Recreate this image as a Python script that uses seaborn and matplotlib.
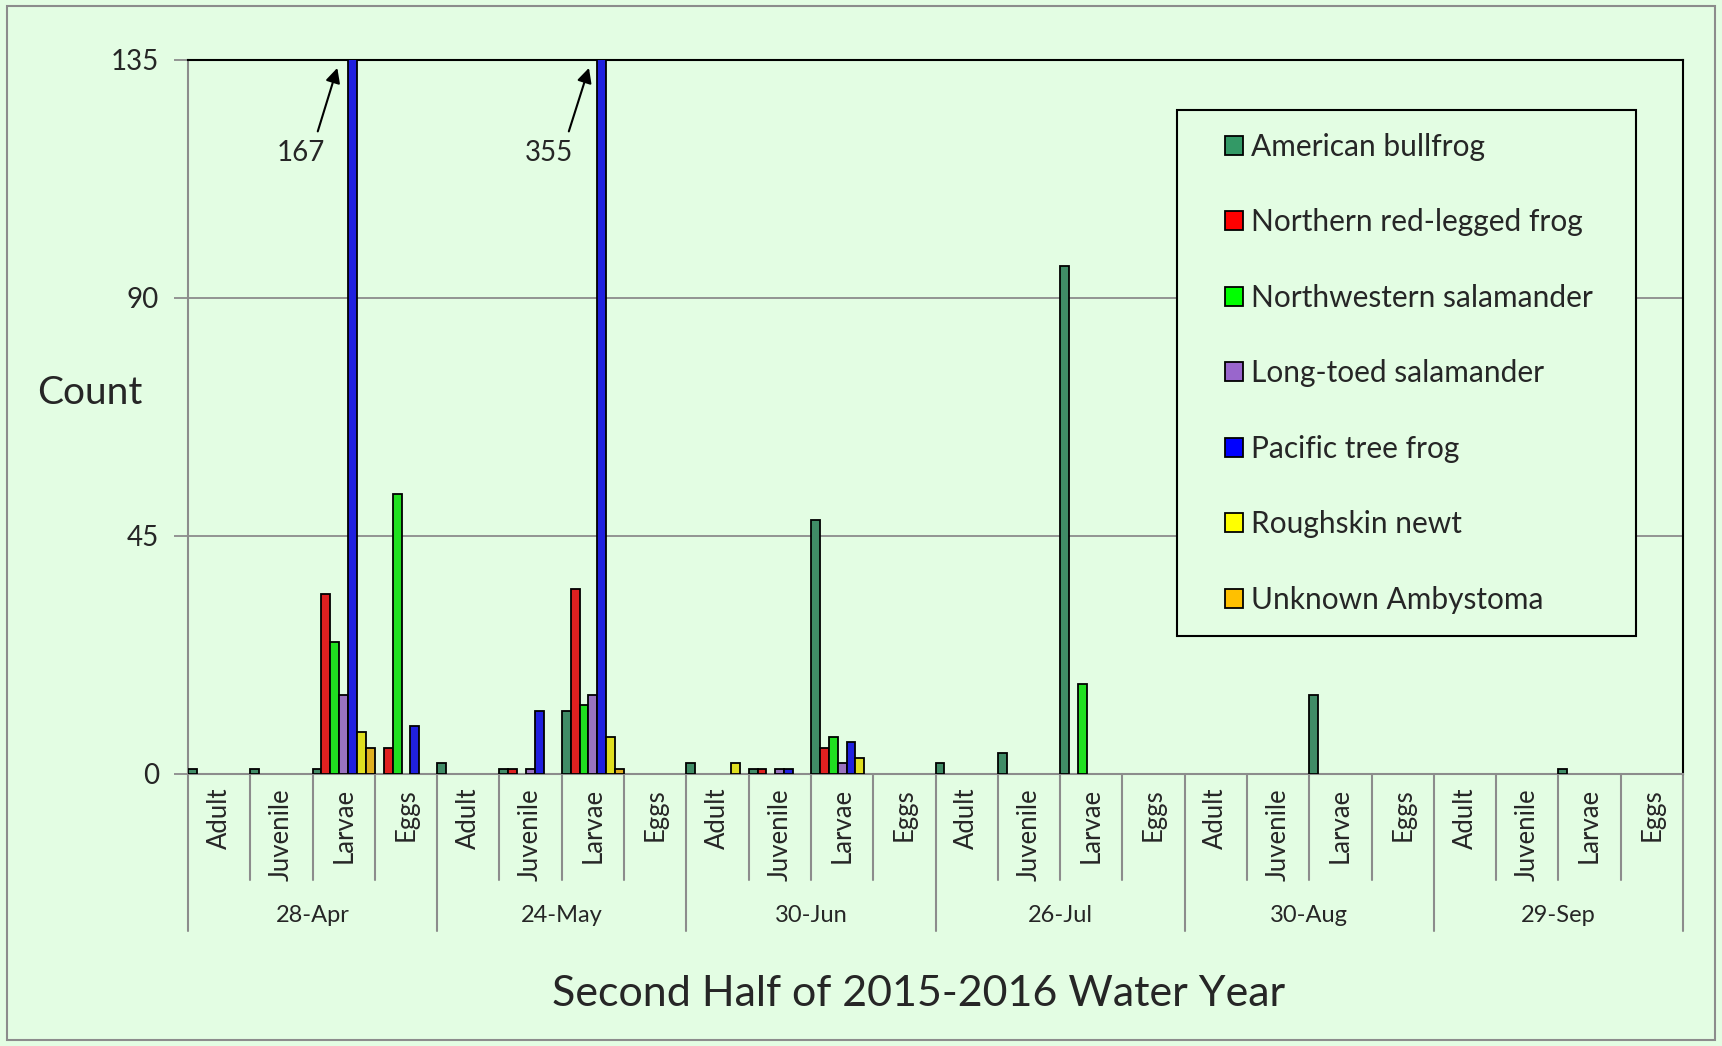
import numpy as np
import pandas as pd
import seaborn as sns
import matplotlib.pyplot as plt
import matplotlib.transforms as mtransforms
from matplotlib.patches import Patch, Rectangle

# data (count per date x life stage)
dates = ['28-Apr', '24-May', '30-Jun', '26-Jul', '30-Aug', '29-Sep']
stages = ['Adult', 'Juvenile', 'Larvae', 'Eggs']
species = ['American bullfrog', 'Northern red-legged frog', 'Northwestern salamander',
           'Long-toed salamander', 'Pacific tree frog', 'Roughskin newt', 'Unknown Ambystoma']
colors = ['#339966', '#ff0000', '#00ff00', '#9966cc', '#0000ff', '#ffff00', '#ffc000']

bullfrog    = [1, 1, 1, 0,   2, 1, 12, 0,   2, 1, 48, 0,   2, 4, 96, 0,   0, 0, 15, 0,   0, 0, 1, 0]
red_legged  = [0, 0, 34, 5,  0, 1, 35, 0,   0, 1, 5, 0,    0, 0, 0, 0,    0, 0, 0, 0,    0, 0, 0, 0]
nw_sal      = [0, 0, 25, 53, 0, 0, 13, 0,   0, 0, 7, 0,    0, 0, 17, 0,   0, 0, 0, 0,    0, 0, 0, 0]
long_toed   = [0, 0, 15, 0,  0, 1, 15, 0,   0, 1, 2, 0,    0, 0, 0, 0,    0, 0, 0, 0,    0, 0, 0, 0]
tree_frog   = [0, 0, 167, 9, 0, 12, 355, 0, 0, 1, 6, 0,    0, 0, 0, 0,    0, 0, 0, 0,    0, 0, 0, 0]
newt        = [0, 0, 8, 0,   0, 0, 7, 0,    2, 0, 3, 0,    0, 0, 0, 0,    0, 0, 0, 0,    0, 0, 0, 0]
ambystoma   = [0, 0, 5, 0,   0, 0, 1, 0,    0, 0, 0, 0,    0, 0, 0, 0,    0, 0, 0, 0,    0, 0, 0, 0]
series = [bullfrog, red_legged, nw_sal, long_toed, tree_frog, newt, ambystoma]

ymax = 135
yticks = [0, 45, 90, 135]

#%%
cats = [d + '|' + s for d in dates for s in stages]
rows = []
for name, vals in zip(species, series):
    for c, v in zip(cats, vals):
        if v > 0:
            rows.append({'cat': c, 'count': v, 'species': name})
df = pd.DataFrame(rows)

bg = '#e3fde3'
grid_col = '#8c8c8c'

sns.set_style('white')
plt.rcParams['font.family'] = ['Lato', 'DejaVu Sans']

fig = plt.figure(figsize=(17.22, 10.46), dpi=100, facecolor=bg)
ax = fig.add_axes([188/1722, 1 - 774/1046, (1683-188)/1722, (774-60)/1046])
ax.set_facecolor(bg)

sns.barplot(data=df, x='cat', y='count', hue='species', order=cats, hue_order=species,
            palette=colors, width=1, gap=0, edgecolor='black', linewidth=1.3,
            errorbar=None, legend=False, ax=ax, zorder=3)

ax.set_xlim(-0.5, len(cats) - 0.5)
ax.set_ylim(0, ymax)
ax.set_yticks(yticks)
ax.set_yticklabels([str(t) for t in yticks], fontsize=20)
ax.tick_params(axis='y', length=10, width=1.3, color=grid_col, pad=11, left=True)
ax.yaxis.grid(True, color=grid_col, lw=1.3, zorder=0)
ax.set_axisbelow(True)
ax.set_xticks([])
ax.set_xlabel('')
ax.set_ylabel('')
for side in ['left', 'bottom']:
    ax.spines[side].set_color(grid_col)
    ax.spines[side].set_linewidth(1.5)
for side in ['top', 'right']:
    ax.spines[side].set_color('black')
    ax.spines[side].set_linewidth(1.5)
    ax.spines[side].set_visible(True)

# two-level category axis
tr = mtransforms.blended_transform_factory(ax.transData, ax.transAxes)
for k in range(len(cats) + 1):
    low = -0.22 if k % 4 == 0 else -0.1485
    ax.plot([k - 0.5, k - 0.5], [0, low], color=grid_col, lw=1.5, transform=tr, clip_on=False)
for i, c in enumerate(cats):
    ax.text(i, -0.0196, c.split('|')[1], rotation=90, ha='center', va='top',
            fontsize=18.5, transform=tr)
for j, d in enumerate(dates):
    ax.text(j * 4 + 1.5, -0.198, d, ha='center', va='center', fontsize=17, transform=tr)

ax.text(-0.5 - 98/62.3, 1 - (393-60)/714, 'Count', ha='center', va='center', fontsize=28, transform=tr)
fig.text(919/1722, 1 - 994/1046, 'Second Half of 2015-2016 Water Year', ha='center', va='center', fontsize=31)

# values above the axis limit
for val, x_head, x_tail, x_txt in [(tree_frog[2], 1.91, 1.57, 1.31), (tree_frog[6], 5.95, 5.60, 5.30)]:
    ax.annotate('', xy=(x_head, 134), xytext=(x_tail, 121),
                arrowprops=dict(arrowstyle='-|>', color='black', lw=1.5, mutation_scale=22), zorder=5)
    ax.text(x_txt, 117.5, str(val), ha='center', va='center', fontsize=20, zorder=5)

# legend: frame drawn separately so the inner margins match
ax.add_patch(Rectangle((1177/1722, 1 - 636/1046), (1636-1177)/1722, (636-110)/1046,
                       transform=fig.transFigure, facecolor=bg, edgecolor='black', lw=1.5,
                       zorder=6, clip_on=False))
handles = [Patch(facecolor=c, edgecolor='black', lw=1.3) for c in colors]
leg = ax.legend(handles, species, loc='upper left', bbox_to_anchor=(1225/1722, 1 - 133/1046),
                bbox_transform=fig.transFigure, fontsize=21.5, frameon=False, labelspacing=1.59,
                handlelength=0.6, handleheight=0.6, handletextpad=0.28, borderpad=0,
                borderaxespad=0)
leg.set_zorder(7)

fig.patches.append(Rectangle((7/1722, 6/1046), (1715-7)/1722, (1040-6)/1046, transform=fig.transFigure,
                             fill=False, edgecolor=grid_col, lw=1.5))

plt.savefig('out.png', dpi=100, facecolor=bg)
